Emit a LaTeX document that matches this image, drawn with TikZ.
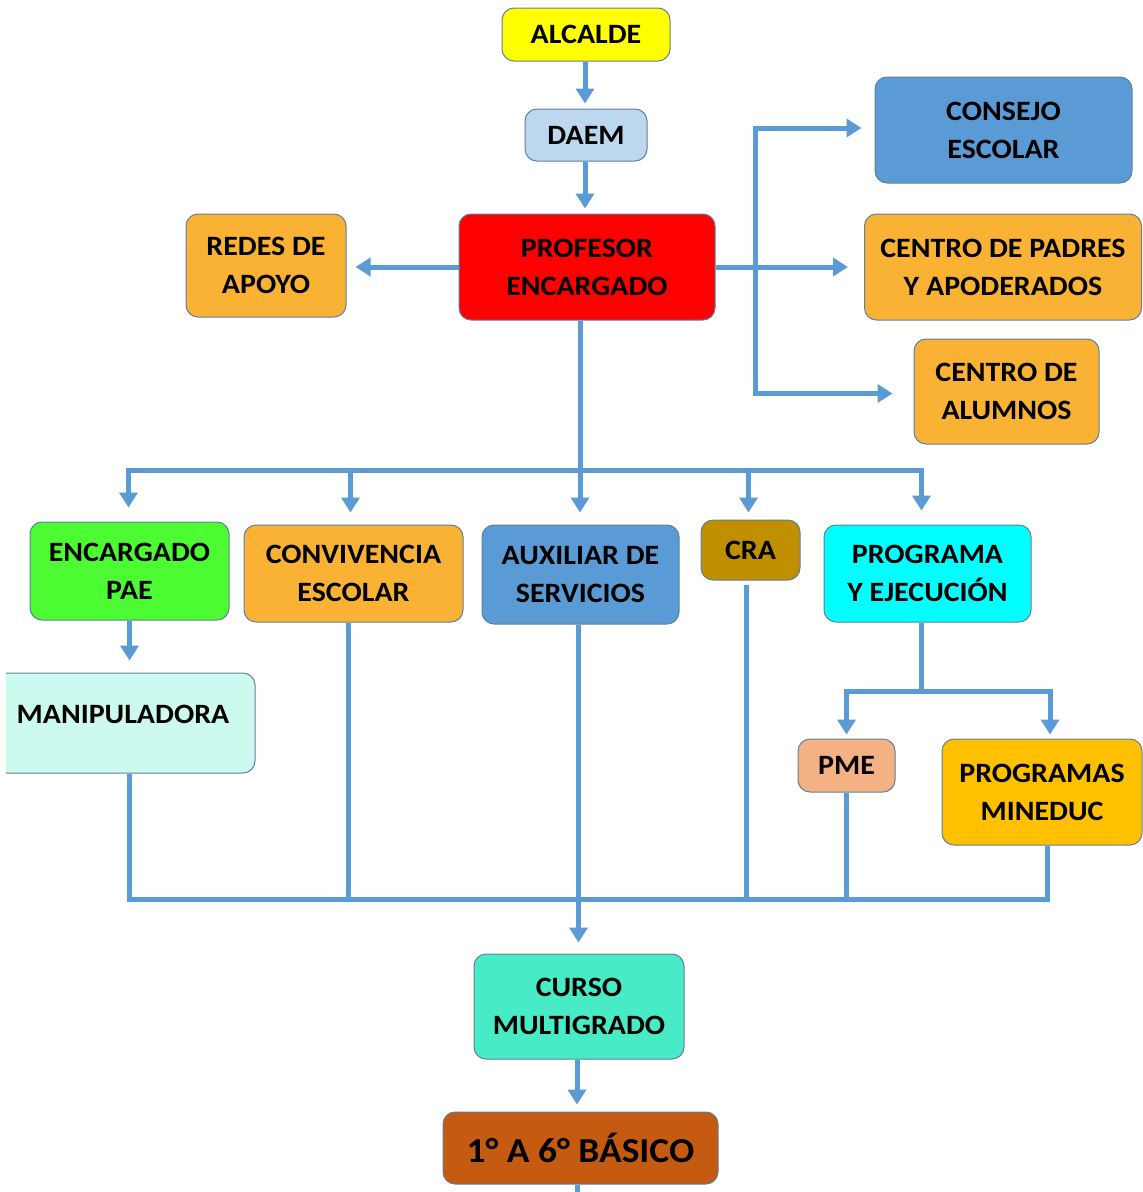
\documentclass[tikz,border=0pt]{standalone}
\usepackage{fontspec}
\setmainfont{Carlito}[FakeStretch=1.07]
\usetikzlibrary{arrows.meta,positioning}
\definecolor{lineblue}{HTML}{5B9BD5}
\definecolor{boxedge}{HTML}{5F7F9E}
\definecolor{cyellow}{HTML}{FFFF00}
\definecolor{cdaem}{HTML}{BDD7EE}
\definecolor{cred}{HTML}{FF0000}
\definecolor{corange}{HTML}{FAB234}
\definecolor{cblue}{HTML}{5B9BD5}
\definecolor{cgreen}{HTML}{4DFB33}
\definecolor{ccra}{HTML}{BF8F00}
\definecolor{ccyan}{HTML}{00FFFF}
\definecolor{cmint}{HTML}{CDFAEE}
\definecolor{cpme}{HTML}{F4B183}
\definecolor{cmineduc}{HTML}{FFC000}
\definecolor{ccurso}{HTML}{47EBC5}
\definecolor{cbasico}{HTML}{C55A11}
\newcommand*{\boxfont}{\bfseries\fontsize{28}{38}\selectfont}
\tikzset{
	box/.style={draw=boxedge,line width=1pt,rounded corners=12pt,align=center,
		inner sep=0pt,font=\boxfont},
	conn/.style={draw=lineblue,line width=5pt},
	arr/.style={conn,-{Triangle[width=18pt,length=15pt]}},
}

\begin{document}
\begin{tikzpicture}[x=1pt,y=-1pt]
	\useasboundingbox (0,0) rectangle (1143,1192);
	\node[box,fill=cyellow,minimum width=168pt,minimum height=53pt] (alcalde) at (586,34.5) {ALCALDE};
	\node[box,fill=cdaem,minimum width=122pt,minimum height=52pt] (daem) at (586,135) {DAEM};
	\node[box,fill=cred,minimum width=256pt,minimum height=106pt] (prof) at (587,267) {PROFESOR\\ENCARGADO};
	\node[box,fill=corange,minimum width=160pt,minimum height=103pt] (redes) at (266,265.5) {REDES DE\\APOYO};
	\node[box,fill=cblue,minimum width=257pt,minimum height=106pt] (consejo) at (1003.5,130) {CONSEJO\\ESCOLAR};
	\node[box,fill=corange,minimum width=277pt,minimum height=106pt] (padres) at (1003,267) {CENTRO DE PADRES\\Y APODERADOS};
	\node[box,fill=corange,minimum width=185pt,minimum height=105pt] (alumnos) at (1006.5,391.5) {CENTRO DE\\ALUMNOS};
	\node[box,fill=cgreen,minimum width=199pt,minimum height=98pt] (pae) at (129.5,571) {ENCARGADO\\PAE};
	\node[box,fill=corange,minimum width=219pt,minimum height=97pt] (conv) at (353.5,573.5) {CONVIVENCIA\\ESCOLAR};
	\node[box,fill=cblue,minimum width=197pt,minimum height=99pt] (aux) at (580.5,574.5) {AUXILIAR DE\\SERVICIOS};
	\node[box,fill=ccra,minimum width=99pt,minimum height=60pt] (cra) at (750.5,550) {CRA};
	\node[box,fill=ccyan,minimum width=207pt,minimum height=97pt] (prog) at (927.5,573.5) {PROGRAMA\\Y EJECUCIÓN};
	\begin{scope}
		\clip (6,660) rectangle (300,790);
		\node[box,fill=cmint,minimum width=275pt,minimum height=100pt] (manip) at (117.5,723) {};
	\end{scope}
	\node[font=\boxfont] (maniplbl) at (123,714) {MANIPULADORA};
	\node[box,fill=cpme,minimum width=97pt,minimum height=53pt] (pme) at (846.5,765.5) {PME};
	\node[box,fill=cmineduc,minimum width=200pt,minimum height=106pt] (mineduc) at (1042,792) {PROGRAMAS\\MINEDUC};
	\node[box,fill=ccurso,minimum width=210pt,minimum height=105pt] (curso) at (579,1006.5) {CURSO\\MULTIGRADO};
	\node[box,fill=cbasico,minimum width=275pt,minimum height=72pt,font=\bfseries\fontsize{35}{42}\selectfont] (basico) at (580.5,1148) {1° A 6° BÁSICO};

	\coordinate (rsplit) at (755,267);
	\coordinate (tsplit) at (580,470);
	\coordinate (psplit) at (921.5,691);
	\coordinate (bsplit) at (578,899);
	\coordinate (tail) at (577,1200);

	\draw[arr,shorten >=5pt] ([xshift=-1pt]alcalde.south) -- ([xshift=-1pt]alcalde.south |- daem.north);
	\draw[arr,shorten >=5pt] ([xshift=-1pt]daem.south) -- ([xshift=-1pt]daem.south |- prof.north);
	\draw[arr,shorten >=9pt] (prof.west) -- (redes.east |- prof.west);
	\draw[conn] (prof.east) -- (rsplit);
	\draw[arr,shorten >=16pt] (rsplit) -- (padres.west);
	\draw[arr,shorten >=13pt] (rsplit) |- ([yshift=2pt]consejo.west);
	\draw[arr,shorten >=21pt] (rsplit) |- ([yshift=-2pt]alumnos.west);
	\draw[conn] (tsplit |- prof.south) -- (tsplit);
	\draw[arr,shorten >=14pt] (tsplit) -| ([xshift=-1pt]pae.north);
	\draw[arr,shorten >=12pt] (tsplit) -| ([xshift=-3pt]conv.north);
	\draw[arr,shorten >=12pt] (tsplit) -- (tsplit |- aux.north);
	\draw[arr,shorten >=7pt] (tsplit) -| ([xshift=-2pt]cra.north);
	\draw[arr,shorten >=14pt] (tsplit) -| ([xshift=-6pt]prog.north);
	\draw[arr,shorten >=12pt] (pae.south) -- (pae.south |- manip.north);
	\draw[conn] ([xshift=-6pt]prog.south) -- (psplit);
	\draw[arr,shorten >=4pt] (psplit) -| (pme.north);
	\draw[arr,shorten >=4pt] (psplit) -| ([xshift=8pt]mineduc.north);
	\draw[conn] (pae.south |- manip.south) |- (bsplit);
	\draw[conn] ([xshift=-5pt]conv.south) |- (bsplit);
	\draw[conn,shorten <=4pt] ([xshift=-4pt]cra.south) |- (bsplit);
	\draw[conn] (pme.south) |- (bsplit);
	\draw[conn] ([xshift=5pt]mineduc.south) |- (bsplit);
	\draw[arr,shorten >=11pt] ([xshift=-2pt]aux.south) -- ([xshift=-2pt]aux.south |- curso.north);
	\draw[arr,shorten >=7pt] ([xshift=-2pt]curso.south) -- ([xshift=-2pt]curso.south |- basico.north);
	\draw[conn] (tail |- basico.south) -- (tail);
\end{tikzpicture}
\end{document}
